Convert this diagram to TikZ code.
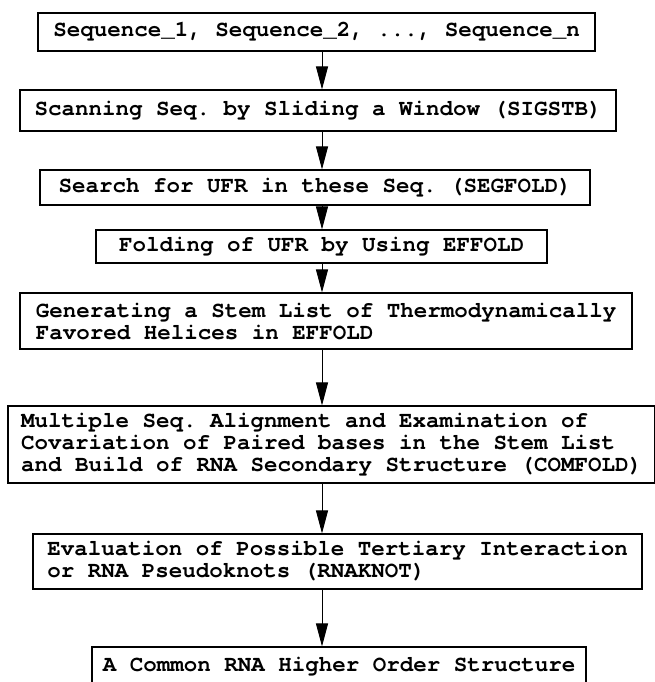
\documentclass[tikz,border=0pt]{standalone}
\usepackage{fontspec}
\setmonofont{TeX Gyre Cursor}
\usetikzlibrary{arrows.meta}

\begin{document}
\begin{tikzpicture}
    [every node/.style={inner sep=0pt},
     stepbox/.style={draw=black, line width=1.1pt, align=left, font=\ttfamily\bfseries\fontsize{22.5}{22}\selectfont}]
        \useasboundingbox (0pt, 0pt) rectangle (655pt, -682pt);
        \coordinate (ax) at (322pt, 0pt);
        \node (1) [stepbox, minimum width=557pt, minimum height=38pt] at (316.5pt, -32pt) {Sequence\_1, Sequence\_2, ..., Sequence\_n};
        \node (2) [stepbox, minimum width=596pt, minimum height=41pt] at (318pt, -110.5pt) {Scanning Seq. by Sliding a Window (SIGSTB)};
        \node (3) [stepbox, minimum width=550pt, minimum height=35pt] at (315pt, -187.5pt) {Search for UFR in these Seq. (SEGFOLD)};
        \node (4) [stepbox, minimum width=451pt, minimum height=33pt] at (321.5pt, -246.5pt) {Folding of UFR by Using EFFOLD};
        \node (5) [stepbox, minimum width=612pt, minimum height=56pt] at (326pt, -321pt) {Generating a Stem List of Thermodynamically\\Favored Helices in EFFOLD};
        \node (6) [stepbox, minimum width=647pt, minimum height=77pt] at (331.5pt, -444.5pt) {Multiple Seq. Alignment and Examination of\\Covariation of Paired bases in the Stem List\\and Build of RNA Secondary Structure (COMFOLD)};
        \node (7) [stepbox, minimum width=609pt, minimum height=55pt] at (337.5pt, -561.5pt) {Evaluation of Possible Tertiary Interaction\\or RNA Pseudoknots (RNAKNOT)};
        \node (8) [stepbox, minimum width=494pt, minimum height=40pt] at (339pt, -667pt) {A Common RNA Higher Order Structure};
        \draw [line width=1pt, -{Triangle[length=23pt, width=12pt]}, color=black] (1.south -| ax) to (2.north -| ax);
        \draw [line width=1pt, -{Triangle[length=23pt, width=12pt]}, color=black] (2.south -| ax) to (3.north -| ax);
        \draw [line width=1pt, -{Triangle[length=23pt, width=12pt]}, color=black] (3.south -| ax) to (4.north -| ax);
        \draw [line width=1pt, -{Triangle[length=23pt, width=12pt]}, color=black] (4.south -| ax) to (5.north -| ax);
        \draw [line width=1pt, -{Triangle[length=23pt, width=12pt]}, color=black] (5.south -| ax) to (6.north -| ax);
        \draw [line width=1pt, -{Triangle[length=23pt, width=12pt]}, color=black] (6.south -| ax) to (7.north -| ax);
        \draw [line width=1pt, -{Triangle[length=23pt, width=12pt]}, color=black] (7.south -| ax) to (8.north -| ax);
    \end{tikzpicture}
\end{document}
